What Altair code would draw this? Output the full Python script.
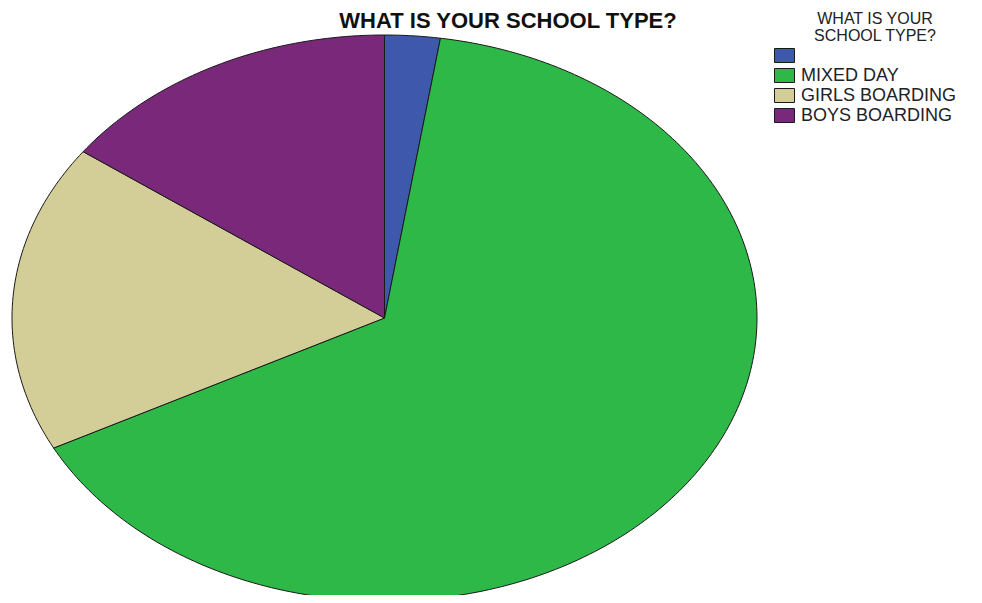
import altair as alt
import pandas as pd

categories = ["", "MIXED DAY", "GIRLS BOARDING", "BOYS BOARDING"]
percent = [2.4, 65.0, 17.6, 15.0]
colors = ["#3E58AC", "#2EB848", "#D3CE97", "#7A287A"]
chart_title = "WHAT IS YOUR SCHOOL TYPE?"
legend_title = ["WHAT IS YOUR", "SCHOOL TYPE?"]

df = pd.DataFrame({"idx": list(range(len(categories))), "cat": categories, "pct": percent})

W = 745
H = 560
RY = 283.0

pie = (
    alt.Chart(df)
    .transform_window(end="sum(pct)", sort=[alt.SortField("idx")], frame=[None, 0])
    .transform_calculate(start="datum.end - datum.pct")
    .transform_calculate(n="max(1, ceil(datum.pct * 3.6))")
    .transform_calculate(pts="sequence(-1, datum.n + 2)")
    .transform_flatten(["pts"])
    .transform_calculate(
        a="(datum.start + datum.pct * clamp(datum.pts, 0, datum.n) / datum.n) / 100 * 2 * PI"
    )
    .transform_calculate(
        px="(datum.pts < 0 || datum.pts > datum.n) ? 0 : sin(datum.a)",
        py="(datum.pts < 0 || datum.pts > datum.n) ? 0 : cos(datum.a)",
    )
    .mark_line(filled=True, stroke="#1a1a1a", strokeWidth=1, strokeJoin="round", clip=False, opacity=1)
    .encode(
        x=alt.X("px:Q", scale=alt.Scale(domain=[-1, 1], zero=False, nice=False), axis=None),
        y=alt.Y("py:Q", scale=alt.Scale(domain=[1 - H / RY, 1], zero=False, nice=False), axis=None),
        order=alt.Order("pts:Q"),
        color=alt.Color(
            "cat:N",
            scale=alt.Scale(domain=categories, range=colors),
            sort=categories,
            legend=alt.Legend(
                title=None,
                orient="none",
                legendX=762,
                legendY=10,
                symbolType="M-1,-0.7H1V0.7H-1Z",
                symbolSize=400,
                symbolStrokeColor="#1a1a1a",
                symbolStrokeWidth=1,
                symbolOpacity=1,
                labelFont="Liberation Sans",
                labelFontSize=18,
                labelColor="#222222",
                labelOffset=6,
                rowPadding=0,
            ),
        ),
        detail="cat:N",
    )
)

title_df = pd.DataFrame({"t": [chart_title]})
title_layer = (
    alt.Chart(title_df)
    .mark_text(font="Liberation Sans", fontSize=22, fontWeight="bold", color="#111111",
               align="center", baseline="alphabetic")
    .encode(text="t:N", x=alt.value(496), y=alt.value(-7))
)

lt1 = (
    alt.Chart(pd.DataFrame({"t": [legend_title[0]]}))
    .mark_text(font="Liberation Sans", fontSize=16, color="#222222", align="center", baseline="alphabetic")
    .encode(text="t:N", x=alt.value(863), y=alt.value(-11))
)
lt2 = (
    alt.Chart(pd.DataFrame({"t": [legend_title[1]]}))
    .mark_text(font="Liberation Sans", fontSize=16, color="#222222", align="center", baseline="alphabetic")
    .encode(text="t:N", x=alt.value(863), y=alt.value(6))
)

chart = (
    alt.layer(pie, title_layer, lt1, lt2)
    .properties(
        width=W,
        height=H,
        autosize=alt.AutoSizeParams(type="none"),
        padding={"left": 4, "top": 27, "right": 217, "bottom": 0},
    )
    .configure_view(stroke=None)
)

chart.save("out.html", embed_options={"renderer": "svg", "actions": False})
